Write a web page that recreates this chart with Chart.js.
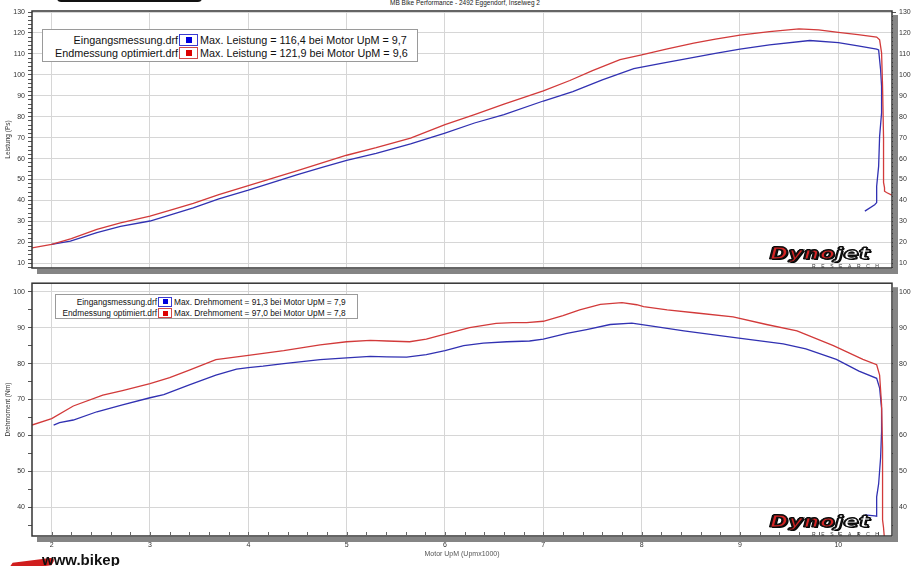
<!DOCTYPE html>
<html lang="de">
<head>
  <meta charset="UTF-8">
  <title>Dyno - MB Bike Performance</title>
  <script src="https://cdn.jsdelivr.net/npm/chart.js"></script>
  <style>
    html, body { margin: 0; padding: 0; background: #fff; }
    body { width: 920px; height: 566px; position: relative; overflow: hidden; font-family: 'Liberation Sans', Arial, sans-serif; }
    canvas { position: absolute; left: 0; }
    #cPower { top: 0; }
    #cTorque { top: 276px; }
    .abs { position: absolute; }
    .titel { left: 390px; top: -1px; font-size: 6.5px; color: #222; white-space: nowrap; }
    .kappe { left: 57px; top: -8px; width: 145px; height: 10px; background: #111; border-radius: 4px; }
    .legende { position: absolute; background: #fff; border: 1px solid #9a9a9a; box-sizing: border-box; color: #111; }
    .zeile { display: flex; align-items: center; white-space: nowrap; }
    .zeile .name { text-align: right; }
    .feld { box-sizing: border-box; border: 1px solid; display: flex; align-items: center; justify-content: center; margin: 0 2px 0 1px; background: #fff; }
    .feld i { display: block; }
    #legP { left: 42px; top: 29px; width: 376px; height: 33px; font-size: 10.8px; padding-top: 3px; }
    #legP .zeile { height: 13.5px; }
    #legP .name { width: 135px; }
    #legP .feld { width: 19px; height: 12px; }
    #legP .feld i { width: 6px; height: 6px; }
    #legT { left: 55px; top: 294px; width: 303px; height: 25px; font-size: 8.3px; padding-top: 1px; }
    #legT .zeile { height: 11.5px; }
    #legT .name { width: 101px; }
    #legT .feld { width: 14px; height: 10px; }
    #legT .feld i { width: 5px; height: 5px; }
    .dyno { position: absolute; white-space: nowrap; }
    .dyno .wort { font: italic 900 15px 'DejaVu Sans', sans-serif; transform: scale(1.45, 1); transform-origin: left top; letter-spacing: 0.5px; text-shadow: 1px 1px 0 #000, -1px 0 0 #000, 0 -1px 0 #000; }
    .dyno .d { color: #d42424; -webkit-text-stroke: 1.2px #111; }
    .dyno .j { color: #fff; -webkit-text-stroke: 1.2px #111; }
    .dyno .res { position: absolute; left: 42px; top: 18px; font-size: 5px; letter-spacing: 5.6px; color: #333; }
    .web { left: 42px; top: 551px; font: bold 15px 'Liberation Sans', Arial, sans-serif; color: #111; }
    .swoosh { left: 12px; top: 560px; width: 40px; height: 8px; background: #d01e1e; transform: skew(-40deg) rotate(-8deg); border-radius: 0 6px 0 0; }
  </style>
</head>
<body>
  <div class="abs kappe"></div>
  <div class="abs titel">MB Bike Performance - 2492 Eggendorf, Inselweg 2</div>

  <canvas id="cPower" width="920" height="276"></canvas>
  <canvas id="cTorque" width="920" height="290"></canvas>

  <div class="legende" id="legP">
    <div class="zeile"><span class="name">Eingangsmessung.drf</span><span class="feld" style="border-color:#3b3bd0"><i style="background:#0000dd"></i></span><span>Max. Leistung = 116,4 bei Motor UpM = 9,7</span></div>
    <div class="zeile"><span class="name">Endmessung optimiert.drf</span><span class="feld" style="border-color:#d04848"><i style="background:#dd0000"></i></span><span>Max. Leistung = 121,9 bei Motor UpM = 9,6</span></div>
  </div>

  <div class="legende" id="legT">
    <div class="zeile"><span class="name">Eingangsmessung.drf</span><span class="feld" style="border-color:#3b3bd0"><i style="background:#0000dd"></i></span><span>Max. Drehmoment = 91,3 bei Motor UpM = 7,9</span></div>
    <div class="zeile"><span class="name">Endmessung optimiert.drf</span><span class="feld" style="border-color:#d04848"><i style="background:#dd0000"></i></span><span>Max. Drehmoment = 97,0 bei Motor UpM = 7,8</span></div>
  </div>

  <div class="dyno" style="left:770px;top:245px"><div class="wort"><span class="d">Dyno</span><span class="j">jet</span></div><div class="res">RESEARCH</div></div>
  <div class="dyno" style="left:770px;top:513px"><div class="wort"><span class="d">Dyno</span><span class="j">jet</span></div><div class="res">RESEARCH</div></div>

  <div class="abs swoosh"></div>
  <div class="abs web">www.bikep</div>

  <script>
    // Leistung (Ps) - Motor UpM x1000
    const rpmPowerIn = [2.0, 2.19, 2.46, 2.7, 3.0, 3.2, 3.44, 3.7, 4.0, 4.25, 4.5, 4.75, 5.0, 5.3, 5.65, 6.0, 6.3, 6.6, 7.0, 7.3, 7.6, 7.92, 8.2, 8.53, 8.75, 9.0, 9.3, 9.71, 10.0, 10.2, 10.39, 10.41, 10.43, 10.44, 10.44, 10.42, 10.41, 10.39, 10.39, 10.37, 10.27];
    const powerIn = [19.0, 20.6, 24.6, 27.6, 30.2, 33.0, 36.5, 40.8, 44.9, 48.7, 52.4, 55.8, 59.2, 62.5, 67.0, 72.2, 77.0, 81.0, 87.5, 92.0, 97.6, 103.0, 105.5, 108.3, 110.2, 112.3, 114.3, 116.4, 115.4, 113.8, 112.3, 111.9, 102.4, 94.4, 81.9, 70.6, 56.3, 46.8, 39.0, 38.0, 34.9];

    const rpmPowerOut = [1.80, 2.0, 2.2, 2.46, 2.7, 3.0, 3.2, 3.44, 3.7, 4.0, 4.25, 4.5, 4.75, 5.0, 5.3, 5.65, 6.0, 6.3, 6.6, 7.0, 7.27, 7.5, 7.78, 8.0, 8.25, 8.53, 8.75, 9.0, 9.3, 9.6, 9.8, 10.0, 10.2, 10.39, 10.42, 10.44, 10.45, 10.46, 10.46, 10.47, 10.47, 10.49, 10.545];
    const powerOut = [17.4, 19.0, 21.8, 26.2, 29.3, 32.5, 35.3, 38.6, 42.8, 47.1, 50.7, 54.3, 58.0, 61.6, 65.2, 69.8, 76.2, 81.0, 86.0, 92.3, 97.3, 102.0, 107.3, 109.5, 112.3, 115.1, 117.0, 119.0, 120.6, 121.9, 121.5, 120.3, 119.2, 118.0, 116.7, 110.5, 94.4, 70.0, 48.6, 46.0, 44.4, 43.8, 42.5];

    // Drehmoment (Nm)
    const rpmTorqueIn = [2.02, 2.08, 2.22, 2.46, 2.72, 3.0, 3.14, 3.4, 3.67, 3.88, 4.0, 4.15, 4.36, 4.73, 5.0, 5.24, 5.41, 5.61, 5.81, 6.0, 6.19, 6.39, 6.63, 6.86, 7.0, 7.24, 7.44, 7.68, 7.9, 8.09, 8.43, 8.93, 9.44, 9.67, 9.98, 10.21, 10.39, 10.42, 10.44, 10.44, 10.43, 10.41, 10.39, 10.39, 10.37, 10.27];
    const torqueIn = [62.9, 63.6, 64.3, 66.6, 68.5, 70.5, 71.4, 74.1, 76.8, 78.5, 78.9, 79.3, 80.0, 81.1, 81.6, 82.0, 81.9, 81.8, 82.5, 83.6, 85.0, 85.7, 86.1, 86.3, 86.8, 88.4, 89.5, 90.9, 91.3, 90.5, 89.1, 87.3, 85.5, 84.1, 81.2, 77.9, 75.9, 73.2, 67.5, 61.1, 53.8, 46.5, 42.9, 37.5, 37.6, 37.9];

    const rpmTorqueOut = [1.80, 2.0, 2.22, 2.52, 2.72, 3.0, 3.2, 3.4, 3.67, 4.0, 4.36, 4.73, 5.0, 5.24, 5.41, 5.64, 5.81, 6.0, 6.25, 6.52, 6.69, 6.83, 7.0, 7.2, 7.37, 7.58, 7.8, 7.95, 8.02, 8.26, 8.56, 8.93, 9.27, 9.58, 9.95, 10.25, 10.39, 10.42, 10.44, 10.45, 10.45, 10.46, 10.47];
    const torqueOut = [62.9, 64.7, 68.2, 71.2, 72.5, 74.4, 76.1, 78.2, 81.1, 82.3, 83.6, 85.2, 86.1, 86.5, 86.3, 86.1, 86.8, 88.2, 90.0, 91.2, 91.4, 91.4, 91.8, 93.4, 95.0, 96.5, 97.0, 96.4, 95.9, 95.0, 94.1, 93.0, 90.9, 89.1, 85.0, 81.2, 79.7, 76.8, 68.5, 56.5, 36.5, 34.3, 31.0];

    const BLUE = '#3131b2';
    const RED = '#d23a3a';
    const FONT = 'Liberation Sans';

    const pts = (xs, ys) => xs.map((x, i) => ({ x: x, y: ys[i] }));
    const major = (v, step) => Math.abs(v / step - Math.round(v / step)) < 1e-6;

    // Rahmen mit Schatten wie im Dynojet-Ausdruck
    const rahmen = {
      id: 'rahmen',
      afterDraw(chart, args, opts) {
        const { ctx, chartArea: a } = chart;
        ctx.save();
        ctx.fillStyle = '#858585';
        ctx.fillRect(a.right + 1, a.top + 4, 5, a.bottom - a.top + 2);
        ctx.fillRect(a.left + 5, a.bottom + 1, a.right - a.left + 1, 5);
        ctx.strokeStyle = '#333';
        ctx.lineWidth = 1.5;
        ctx.strokeRect(a.left, a.top, a.right - a.left, a.bottom - a.top);
        if (opts.minorX) {
          const xs = chart.scales.x;
          ctx.strokeStyle = '#666';
          ctx.lineWidth = 1;
          for (let k = 10; k <= 52; k++) {
            const px = Math.round(xs.getPixelForValue(k / 5)) + 0.5;
            ctx.beginPath();
            ctx.moveTo(px, a.bottom);
            ctx.lineTo(px, a.bottom - 4);
            ctx.stroke();
          }
        }
        ctx.restore();
      }
    };

    function yAxis(pos, min, max, step, width, title) {
      return {
        position: pos,
        min: min,
        max: max,
        afterFit: s => { s.width = width; },
        border: { display: false },
        grid: {
          drawOnChartArea: pos === 'left',
          color: c => major(c.tick.value, 10) ? '#d6d6d6' : 'rgba(0,0,0,0)',
          tickColor: '#555',
          tickLength: 4
        },
        ticks: {
          stepSize: step,
          autoSkip: false,
          includeBounds: false,
          padding: 3,
          color: '#333',
          font: { family: FONT, size: 7 },
          callback: v => major(v, 10) ? v : ''
        },
        title: {
          display: !!title,
          text: title,
          color: '#333',
          font: { family: FONT, size: 6.5 },
          padding: { top: 4, bottom: 0 }
        }
      };
    }

    function linie(label, data, color) {
      return {
        label: label,
        data: data,
        borderColor: color,
        borderWidth: 1.3,
        pointRadius: 0,
        tension: 0,
        fill: false
      };
    }

    // Leistung
    new Chart(document.getElementById('cPower'), {
      type: 'line',
      data: {
        datasets: [
          linie('Endmessung optimiert.drf', pts(rpmPowerOut, powerOut), RED),
          linie('Eingangsmessung.drf', pts(rpmPowerIn, powerIn), BLUE)
        ]
      },
      options: {
        responsive: false,
        animation: false,
        events: [],
        layout: { padding: { top: 11, left: 0, right: 0, bottom: 0 } },
        plugins: { legend: { display: false }, tooltip: { enabled: false }, rahmen: { minorX: false } },
        scales: {
          x: {
            type: 'linear',
            min: 1.80,
            max: 10.546,
            afterFit: s => { s.height = 8; },
            border: { display: false },
            grid: { color: '#d6d6d6', drawTicks: false },
            ticks: { display: false, stepSize: 1, includeBounds: false }
          },
          y: yAxis('left', 7.76, 130.48, 2, 32, 'Leistung (Ps)'),
          y2: yAxis('right', 7.76, 130.48, 2, 28, '')
        }
      },
      plugins: [rahmen]
    });

    // Drehmoment
    new Chart(document.getElementById('cTorque'), {
      type: 'line',
      data: {
        datasets: [
          linie('Endmessung optimiert.drf', pts(rpmTorqueOut, torqueOut), RED),
          linie('Eingangsmessung.drf', pts(rpmTorqueIn, torqueIn), BLUE)
        ]
      },
      options: {
        responsive: false,
        animation: false,
        events: [],
        layout: { padding: { top: 2.3, left: 0, right: 0, bottom: 0 } },
        plugins: { legend: { display: false }, tooltip: { enabled: false }, rahmen: { minorX: true } },
        scales: {
          x: {
            type: 'linear',
            min: 1.80,
            max: 10.546,
            afterFit: s => { s.height = 30; },
            border: { display: false },
            grid: { color: '#d6d6d6', tickColor: 'rgba(0,0,0,0)', tickLength: 5 },
            ticks: {
              stepSize: 1,
              includeBounds: false,
              padding: 0,
              color: '#333',
              font: { family: FONT, size: 7 }
            },
            title: {
              display: true,
              text: 'Motor UpM (Upmx1000)',
              color: '#555',
              font: { family: FONT, size: 7 },
              padding: { top: 0, bottom: 8 }
            }
          },
          y: yAxis('left', 32.0, 102.4, 5, 32, 'Drehmoment (Nm)'),
          y2: yAxis('right', 32.0, 102.4, 5, 28, '')
        }
      },
      plugins: [rahmen]
    });
  </script>
</body>
</html>
